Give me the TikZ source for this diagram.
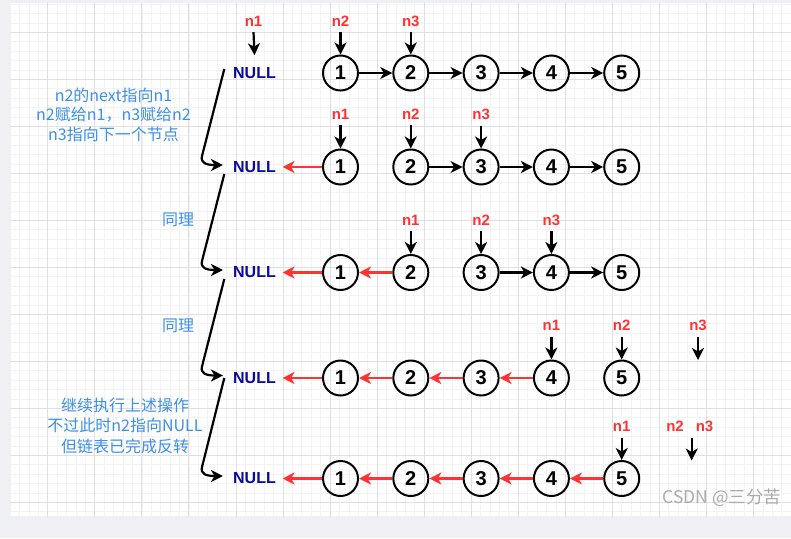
\documentclass[tikz,border=0pt]{standalone}
\usepackage{fontspec}
\setmainfont{Liberation Sans}
\newfontfamily\cjk{Noto Sans CJK SC}
\usetikzlibrary{arrows.meta}
\definecolor{bgray}{HTML}{EEF0F3}
\definecolor{gmaj}{HTML}{E0E0E0}
\definecolor{gmin}{HTML}{F3F3F3}
\definecolor{nred}{HTML}{FF3333}
\definecolor{nullblue}{HTML}{0A0A9E}
\definecolor{noteblue}{HTML}{3D8FE8}
\definecolor{wm}{HTML}{ABABAB}
\tikzset{
  lnode/.style={circle, draw, line width=2pt, minimum size=35pt, inner sep=0pt,
    font=\fontsize{20}{20}\selectfont\bfseries},
  nullnode/.style={inner sep=0pt, text=nullblue, font=\fontsize{16}{16}\selectfont\bfseries},
  ptr/.style={inner sep=0pt, text=nred, font=\fontsize{15}{15}\selectfont\bfseries},
  fwd/.style={line width=2.2pt, -{Stealth[length=12pt,width=12pt,inset=3.5pt]}},
  back/.style={fwd, draw=nred},
  conn/.style={line width=2.2pt, -{Stealth[length=12pt,width=12pt,inset=3.5pt]}},
  note/.style={text=noteblue, align=center, inner sep=0pt,
    font=\cjk\fontsize{16}{19.5}\selectfont},
  minorline/.style={draw=gmin, line width=0.7pt},
  majorline/.style={draw=gmaj, line width=0.9pt},
}
\begin{document}
\begin{tikzpicture}[x=1pt,y=-1pt]
\useasboundingbox (0,0) rectangle (791,538);
\fill[bgray] (0,0) rectangle (791,538);
\fill[white] (10,3) rectangle (791,516);
\begin{scope}
\clip (10,3) rectangle (791,516);
\foreach \i in {0,...,84} \draw[minorline] ({0.7+9.41*\i},0) -- ({0.7+9.41*\i},538);
\foreach \j in {-4,...,52} \draw[minorline] (0,{32.3+9.4*\j}) -- (791,{32.3+9.4*\j});
\foreach \i in {0,...,16} \draw[majorline] ({0.7+47.05*\i},0) -- ({0.7+47.05*\i},538);
\foreach \j in {-1,...,10} \draw[majorline] (0,{32.3+47*\j}) -- (791,{32.3+47*\j});
\end{scope}

% ---------- row 1 ----------
\node[nullnode] (null1) at (254.5,73) {NULL};
\foreach \k/\x in {1/340.5,2/410.8,3/481.1,4/551.4,5/621.7}
  \node[lnode] (a1\k) at (\x,73) {\k};
\draw[fwd] (a11) -- (a12);
\draw[fwd] (a12) -- (a13);
\draw[fwd] (a13) -- (a14);
\draw[fwd] (a14) -- (a15);
\node[ptr] (p11) at (253.5,21) {n1};
\node[ptr] (p12) at (340.5,21) {n2};
\node[ptr] (p13) at (410.8,21) {n3};
\draw[fwd] ([yshift=-5.7pt]p11.south) -- ([yshift=12pt]null1.north);
\draw[fwd] ([yshift=-5.7pt]p12.south) -- (a11);
\draw[fwd] ([yshift=-5.7pt]p13.south) -- (a12);

% ---------- row 2 ----------
\node[nullnode] (null2) at (254.5,167) {NULL};
\foreach \k/\x in {1/340.5,2/410.8,3/481.1,4/551.4,5/621.7}
  \node[lnode] (a2\k) at (\x,167) {\k};
\draw[back] (a21) -- ([xshift=6.5pt]null2.east);
\draw[fwd] (a22) -- (a23);
\draw[fwd] (a23) -- (a24);
\draw[fwd] (a24) -- (a25);
\node[ptr] (p21) at (340.5,114.3) {n1};
\node[ptr] (p22) at (410.8,114.3) {n2};
\node[ptr] (p23) at (481.1,114.3) {n3};
\draw[fwd] ([yshift=-5.7pt]p21.south) -- (a21);
\draw[fwd] ([yshift=-5.7pt]p22.south) -- (a22);
\draw[fwd] ([yshift=-5.7pt]p23.south) -- (a23);

% ---------- row 3 ----------
\node[nullnode] (null3) at (254.5,272.5) {NULL};
\foreach \k/\x in {1/340.5,2/410.8,3/481.1,4/551.4,5/621.7}
  \node[lnode] (a3\k) at (\x,272.5) {\k};
\draw[back] (a31) -- ([xshift=6.5pt]null3.east);
\draw[back] (a32) -- (a31);
\draw[fwd] (a33) -- (a34);
\draw[fwd] (a34) -- (a35);
\node[ptr] (p31) at (410.8,220) {n1};
\node[ptr] (p32) at (481.1,220) {n2};
\node[ptr] (p33) at (551.4,220) {n3};
\draw[fwd] ([yshift=-5.7pt]p31.south) -- (a32);
\draw[fwd] ([yshift=-5.7pt]p32.south) -- (a33);
\draw[fwd] ([yshift=-5.7pt]p33.south) -- (a34);

% ---------- row 4 ----------
\node[nullnode] (null4) at (254.5,378) {NULL};
\foreach \k/\x in {1/340.5,2/410.8,3/481.1,4/551.4,5/621.7}
  \node[lnode] (a4\k) at (\x,378) {\k};
\draw[back] (a41) -- ([xshift=6.5pt]null4.east);
\draw[back] (a42) -- (a41);
\draw[back] (a43) -- (a42);
\draw[back] (a44) -- (a43);
\node[ptr] (p41) at (551.4,325.7) {n1};
\node[ptr] (p42) at (621.7,325.7) {n2};
\node[ptr] (p43) at (698,325.7) {n3};
\draw[fwd] ([yshift=-5.7pt]p41.south) -- (a44);
\draw[fwd] ([yshift=-5.7pt]p42.south) -- (a45);
\coordinate (q4) at (698,360);
\draw[fwd] ([yshift=-5.7pt]p43.south) -- (q4);

% ---------- row 5 ----------
\node[nullnode] (null5) at (254.5,478.5) {NULL};
\foreach \k/\x in {1/340.5,2/410.8,3/481.1,4/551.4,5/621.7}
  \node[lnode] (a5\k) at (\x,478.5) {\k};
\draw[back] (a51) -- ([xshift=6.5pt]null5.east);
\draw[back] (a52) -- (a51);
\draw[back] (a53) -- (a52);
\draw[back] (a54) -- (a53);
\draw[back] (a55) -- (a54);
\node[ptr] (p51) at (621.7,426.7) {n1};
\node[ptr] (p52) at (675,426.7) {n2};
\node[ptr] (p53) at (704.5,426.7) {n3};
\draw[fwd] ([yshift=-5.7pt]p51.south) -- (a55);
\coordinate (f5) at (691.7,438.3);
\coordinate (g5) at (691.7,460.5);
\draw[fwd] (f5) -- (g5);

% ---------- step connectors ----------
\coordinate (s1) at (224.3,69);
\coordinate (s2) at (224.3,174);
\coordinate (s3) at (224.3,279);
\coordinate (s4) at (224.3,378);
\draw[conn] (s1) -- (202,156) .. controls (200.3,163) and (206,165) .. ([shift={(-10pt,2pt)}]null2.west);
\draw[conn] (s2) -- (202,261) .. controls (200.3,268) and (206,270) .. ([shift={(-10pt,2.5pt)}]null3.west);
\draw[conn] (s3) -- (202,366.5) .. controls (200.3,373.5) and (206,375.5) .. ([shift={(-10pt,2.5pt)}]null4.west);
\draw[conn] (s4) -- (202,467) .. controls (200.3,474) and (206,476) .. ([shift={(-10pt,2.5pt)}]null5.west);

% ---------- notes ----------
\node[note] (t1) at (113.5,114.7) {n2的next指向n1\\n2赋给n1，n3赋给n2\\n3指向下一个节点};
\node[note] (t2) at (178,220) {同理};
\node[note] (t3) at (178,325.7) {同理};
\node[note, font=\cjk\fontsize{16}{20.5}\selectfont] (t4) at (125,425.7) {继续执行上述操作\\不过此时n2指向NULL\\但链表已完成反转};
\node[inner sep=0pt, text=wm, font=\cjk\fontsize{17.5}{17.5}\selectfont] (wmk) at (722,498) {CSDN @三分苦};
\end{tikzpicture}
\end{document}
